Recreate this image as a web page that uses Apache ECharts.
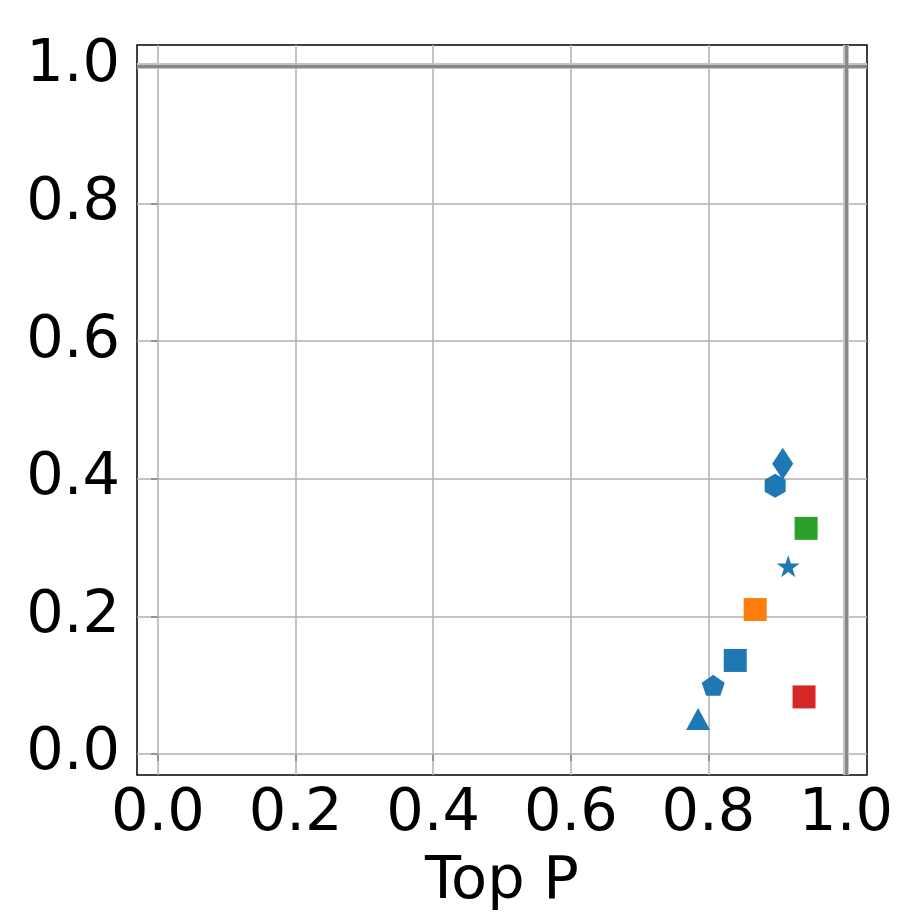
<!DOCTYPE html>
<html>
<head>
<meta charset="utf-8">
<script src="https://cdn.jsdelivr.net/npm/echarts@6/dist/echarts.min.js"></script>
<style>
html,body{margin:0;padding:0;background:#fff}
#chart{width:913px;height:913px}
</style>
</head>
<body>
<div id="chart"></div>
<script>
// points
const names = ['diamond', 'hexagon', 'green', 'star', 'orange', 'blueSq', 'pentagon', 'triangle', 'red'];
const topP = [0.908, 0.897, 0.942, 0.916, 0.868, 0.839, 0.807, 0.785, 0.939];
const yVals = [0.422, 0.390, 0.328, 0.273, 0.210, 0.136, 0.100, 0.051, 0.083];
const ticks = [0, 0.2, 0.4, 0.6, 0.8, 1.0];
const refLine = [1.0];

const blue = '#1f77b4';
const symbols = {
    diamond: { symbol: 'path://M0,-1 L0.6,0 L0,1 L-0.6,0 Z', size: [21, 32], color: blue },
    hexagon: { symbol: 'path://M0,-1 L0.866,-0.5 L0.866,0.5 L0,1 L-0.866,0.5 L-0.866,-0.5 Z', size: [21, 24], color: blue },
    green: { symbol: 'rect', size: 23, color: '#2ca02c' },
    star: { symbol: 'path://M0,-1 L0.2245,-0.309 L0.951,-0.309 L0.363,0.118 L0.588,0.809 L0,0.382 L-0.588,0.809 L-0.363,0.118 L-0.951,-0.309 L-0.2245,-0.309 Z', size: [23, 22], color: blue },
    orange: { symbol: 'rect', size: 23, color: '#ff7f0e' },
    blueSq: { symbol: 'rect', size: 23, color: blue },
    pentagon: { symbol: 'path://M0,-1 L0.951,-0.309 L0.588,0.809 L-0.588,0.809 L-0.951,-0.309 Z', size: [23, 21], color: blue },
    triangle: { symbol: 'triangle', size: [24, 22], color: blue },
    red: { symbol: 'rect', size: 23, color: '#d62728' }
};

const chart = echarts.init(document.getElementById('chart'));

const axisBase = {
    type: 'value',
    min: -0.0305,
    max: 1.0305,
    axisLine: { show: false },
    axisTick: { show: true, customValues: ticks, length: 7, lineStyle: { color: '#000', width: 1.5 } },
    axisLabel: {
        customValues: ticks,
        formatter: v => v.toFixed(1),
        fontSize: 59,
        color: '#000',
        fontFamily: 'DejaVu Sans'
    },
    splitLine: { show: false }
};

const gridLines = [];
ticks.forEach(t => {
    gridLines.push({ xAxis: t });
    gridLines.push({ yAxis: t });
});

const series = names.map((n, i) => ({
    type: 'scatter',
    name: n,
    data: [[topP[i], yVals[i]]],
    symbol: symbols[n].symbol,
    symbolSize: symbols[n].size,
    itemStyle: { color: symbols[n].color, opacity: 1 },
    z: 5
}));

// grid lines, then the thick reference lines at 1.0 (light halo + dark core)
const refData = [];
refLine.forEach(v => {
    refData.push({ xAxis: v, lineStyle: { color: '#c4c4c4', width: 6 } });
    refData.push({ yAxis: v, lineStyle: { color: '#c4c4c4', width: 6 } });
});
refLine.forEach(v => {
    refData.push({ xAxis: v, lineStyle: { color: '#888888', width: 3 } });
    refData.push({ yAxis: v, lineStyle: { color: '#888888', width: 3 } });
});

series.unshift({
    type: 'scatter',
    data: [],
    silent: true,
    z: 1,
    markLine: {
        silent: true,
        symbol: 'none',
        label: { show: false },
        animation: false,
        lineStyle: { color: '#b0b0b0', width: 1.5, type: 'solid' },
        data: gridLines.concat(refData)
    }
});

chart.setOption({
    animation: false,
    grid: {
        left: 137, right: 46, top: 45, bottom: 138,
        outerBoundsMode: 'none',
        containLabel: false,
        show: true, borderColor: '#000', borderWidth: 1.5, backgroundColor: 'transparent'
    },
    xAxis: Object.assign({}, axisBase, {
        name: 'Top P',
        nameLocation: 'middle',
        nameGap: 78,
        nameMoveOverlap: false,
        nameTextStyle: { fontSize: 59, color: '#000', fontFamily: 'DejaVu Sans' },
        axisLabel: Object.assign({}, axisBase.axisLabel, { margin: 10 })
    }),
    yAxis: Object.assign({}, axisBase, {
        axisLabel: Object.assign({}, axisBase.axisLabel, { margin: 17 })
    }),
    series: series
});
</script>
</body>
</html>
